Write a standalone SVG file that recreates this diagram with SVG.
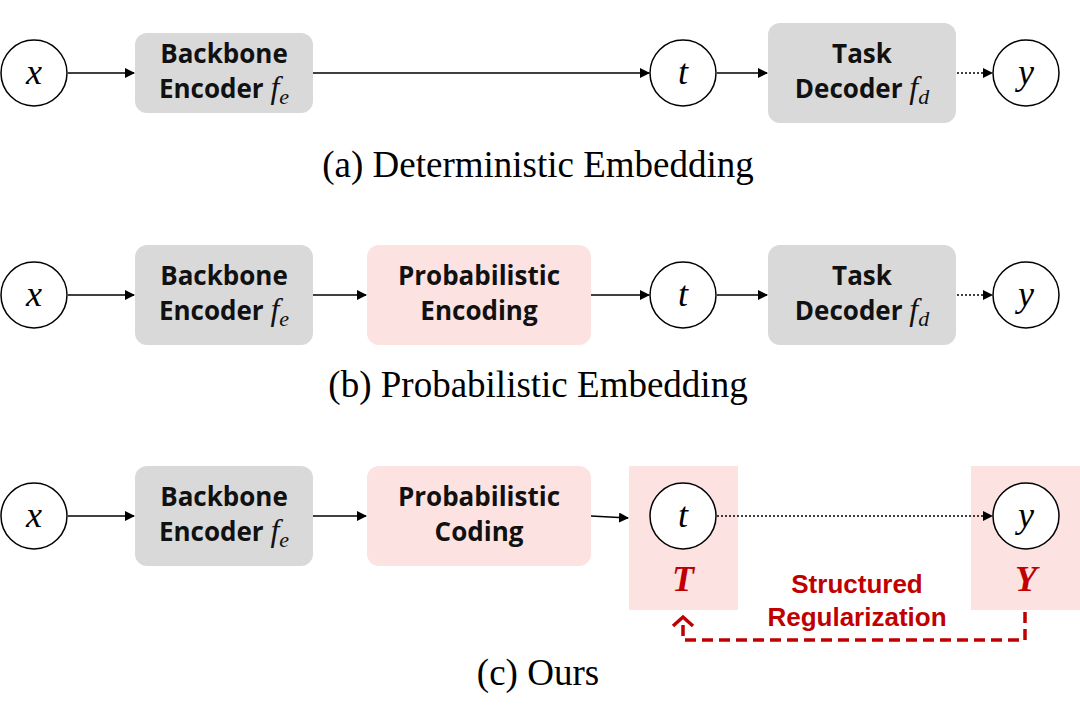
<svg xmlns="http://www.w3.org/2000/svg" width="1080" height="727" viewBox="0 0 1080 727">
<defs>
<style>
.circ{fill:#fff;stroke:#000;stroke-width:1.5}
.gray{fill:#D9D9D9}
.pink{fill:#FDE2E2}
.lbl{font-family:"Open Sans","Liberation Sans",sans-serif;font-weight:bold;font-size:26px;fill:#111;text-anchor:middle}
.rlbl{font-family:"Liberation Sans",sans-serif;font-weight:bold;font-size:26px;fill:#C00000;text-anchor:middle}
.math{font-family:"Liberation Serif",serif;font-style:italic;font-size:36px;fill:#000;text-anchor:middle}
.rmath{font-family:"Liberation Serif",serif;font-style:italic;font-weight:bold;font-size:36px;fill:#C00000;text-anchor:middle}
.mi{font-family:"Liberation Serif",serif;font-style:italic;font-weight:normal;font-size:32px}
.sub{font-family:"Liberation Serif",serif;font-style:italic;font-weight:normal;font-size:22px}
.cap{font-family:"Liberation Serif",serif;font-size:37px;fill:#000;text-anchor:middle}
.ln{stroke:#000;stroke-width:1.6;fill:none}
.dot{stroke:#000;stroke-width:1.6;fill:none;stroke-dasharray:2 2}
</style>
<marker id="ah" markerWidth="10" markerHeight="10" refX="9" refY="5" orient="auto" markerUnits="userSpaceOnUse">
<path d="M0,0 L10,5 L0,10 z" fill="#000"/>
</marker>
<marker id="rah" markerWidth="24" markerHeight="24" refX="12" refY="12" orient="auto" markerUnits="userSpaceOnUse">
<path d="M3,2 L12,12 L3,22" fill="none" stroke="#C00000" stroke-width="3.5"/>
</marker>
</defs>

<!-- Row (a) -->
<g id="a-x"><circle class="circ" cx="34" cy="73" r="33"/><text class="math" x="34" y="84">x</text></g>
<g id="a-backbone"><rect class="gray" x="135" y="33" width="178" height="80" rx="12"/><text class="lbl" x="224" y="63">Backbone</text><text class="lbl" x="224" y="98">Encoder <tspan class="mi">f</tspan><tspan class="sub" dy="6">e</tspan></text></g>
<g id="a-t"><circle class="circ" cx="683" cy="73" r="33"/><text class="math" x="683" y="84">t</text></g>
<g id="a-decoder"><rect class="gray" x="768" y="23" width="188" height="100" rx="12"/><text class="lbl" x="862" y="63">Task</text><text class="lbl" x="862" y="98">Decoder <tspan class="mi">f</tspan><tspan class="sub" dy="6">d</tspan></text></g>
<g id="a-y"><circle class="circ" cx="1026" cy="73" r="33"/><text class="math" x="1026" y="84">y</text></g>
<text class="cap" x="538" y="177">(a) Deterministic Embedding</text>

<!-- Row (b) -->
<g id="b-x"><circle class="circ" cx="34" cy="295" r="33"/><text class="math" x="34" y="306">x</text></g>
<g id="b-backbone"><rect class="gray" x="135" y="245" width="178" height="100" rx="12"/><text class="lbl" x="224" y="285">Backbone</text><text class="lbl" x="224" y="320">Encoder <tspan class="mi">f</tspan><tspan class="sub" dy="6">e</tspan></text></g>
<g id="b-prob"><rect class="pink" x="367" y="245" width="224" height="100" rx="12"/><text class="lbl" x="479" y="285">Probabilistic</text><text class="lbl" x="479" y="320">Encoding</text></g>
<g id="b-t"><circle class="circ" cx="683" cy="295" r="33"/><text class="math" x="683" y="306">t</text></g>
<g id="b-decoder"><rect class="gray" x="768" y="245" width="188" height="100" rx="12"/><text class="lbl" x="862" y="285">Task</text><text class="lbl" x="862" y="320">Decoder <tspan class="mi">f</tspan><tspan class="sub" dy="6">d</tspan></text></g>
<g id="b-y"><circle class="circ" cx="1026" cy="295" r="33"/><text class="math" x="1026" y="306">y</text></g>
<text class="cap" x="538" y="397">(b) Probabilistic Embedding</text>

<!-- Row (c) -->
<g id="c-x"><circle class="circ" cx="34" cy="516" r="33"/><text class="math" x="34" y="527">x</text></g>
<g id="c-backbone"><rect class="gray" x="135" y="466" width="178" height="100" rx="12"/><text class="lbl" x="224" y="506">Backbone</text><text class="lbl" x="224" y="541">Encoder <tspan class="mi">f</tspan><tspan class="sub" dy="6">e</tspan></text></g>
<g id="c-prob"><rect class="pink" x="367" y="466" width="224" height="100" rx="12"/><text class="lbl" x="479" y="506">Probabilistic</text><text class="lbl" x="479" y="541">Coding</text></g>
<g id="c-T"><rect class="pink" x="629" y="466" width="109" height="144"/><circle class="circ" cx="683" cy="516" r="33"/><text class="math" x="683" y="527">t</text><text class="rmath" x="683" y="591">T</text></g>
<g id="c-Y"><rect class="pink" x="971" y="466" width="109" height="144"/><circle class="circ" cx="1026" cy="516" r="33"/><text class="math" x="1026" y="527">y</text><text class="rmath" x="1026" y="591">Y</text></g>
<g id="c-reg-label"><text class="rlbl" x="857" y="593">Structured</text><text class="rlbl" x="857" y="626">Regularization</text></g>
<text class="cap" x="538" y="685">(c) Ours</text>

<!-- Connectors -->
<g id="connectors">
<line class="ln" x1="68" y1="73" x2="134" y2="73" marker-end="url(#ah)"/>
<line class="ln" x1="313" y1="73" x2="649" y2="73" marker-end="url(#ah)"/>
<line class="ln" x1="717" y1="73" x2="767" y2="73" marker-end="url(#ah)"/>
<line class="dot" x1="957" y1="73" x2="992" y2="73" marker-end="url(#ah)"/>

<line class="ln" x1="68" y1="295" x2="134" y2="295" marker-end="url(#ah)"/>
<line class="ln" x1="313" y1="295" x2="366" y2="295" marker-end="url(#ah)"/>
<line class="ln" x1="591" y1="295" x2="649" y2="295" marker-end="url(#ah)"/>
<line class="ln" x1="717" y1="295" x2="767" y2="295" marker-end="url(#ah)"/>
<line class="dot" x1="957" y1="295" x2="992" y2="295" marker-end="url(#ah)"/>

<line class="ln" x1="68" y1="516" x2="134" y2="516" marker-end="url(#ah)"/>
<line class="ln" x1="313" y1="516" x2="366" y2="516" marker-end="url(#ah)"/>
<line class="ln" x1="591" y1="516" x2="628" y2="518" marker-end="url(#ah)"/>
<line class="dot" x1="717" y1="516" x2="992" y2="516" marker-end="url(#ah)"/>

<path d="M1025,612 L1025,640 L683,640 L683,617" fill="none" stroke="#C00000" stroke-width="3.5" stroke-dasharray="11 6" marker-end="url(#rah)"/>
</g>
</svg>
